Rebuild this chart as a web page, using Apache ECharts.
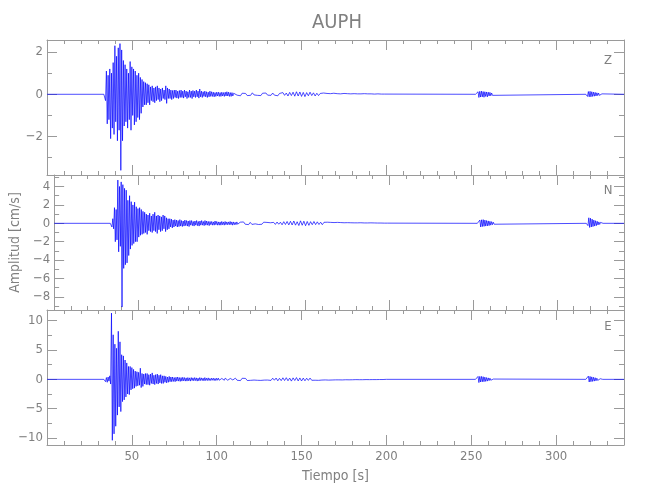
<!DOCTYPE html>
<html><head><meta charset="utf-8">
<script src="https://cdn.jsdelivr.net/npm/echarts@6/dist/echarts.min.js"></script>
<style>html,body{margin:0;padding:0;background:#fff}#c{width:650px;height:500px}</style>
</head><body><div id="c"></div><script>
// ---- data ----
const components = ['Z', 'N', 'E'];
const xMajorTicks = [50, 100, 150, 200, 250, 300];
const xMinorTicks = [10, 20, 30, 40, 60, 70, 80, 90, 110, 120, 130, 140, 160, 170, 180, 190, 210, 220, 230, 240, 260, 270, 280, 290, 310, 320, 330];
const zYMajor = [-2, 0, 2];
const zYMinor = [-3, -1, 1];
const nYMajor = [-8, -6, -4, -2, 0, 2, 4];
const nYMinor = [-9, -7, -5, -3, -1, 1, 3, 5];
const eYMajor = [-10, -5, 0, 5, 10];
const eYMinor = [-7.5, -2.5, 2.5, 7.5];
const zRange = [-3.82, 2.57];
const nRange = [-9.42, 5.25];
const eRange = [-11.2, 11.83];

// main shaking, samples every 0.5 s starting at 34 s
const mainStart = 34, mainStep = 0.5;
const zMain = [
  0.05,-0.3,1.1,-1.4,0.9,-1.2,1.2,-2.1,1.0,-1.6,
  1.5,-1.9,2.3,-1.3,1.8,-2.2,2.2,-1.7,2.4,-3.6,
  2.1,-2.2,1.6,-1.5,1.4,-1.3,1.2,-1.6,1.0,-1.2,
  1.55,-1.7,1.3,-1.0,1.2,-1.45,1.1,-1.3,0.9,-1.1,
  1.0,-1.2,0.8,-0.9,0.7,-0.6,0.6,-0.5,0.55,-0.5,
  0.5,-0.4,0.45,-0.5,0.35,-0.3,0.4,-0.35,0.3,-0.4,
  0.35,-0.3,0.4,-0.25,0.3,-0.35,0.25,-0.3,0.3,-0.2,
  0.2,-0.25,0.4,-0.43,0.3,-0.2,0.25,-0.2,0.2,-0.25,
  0.18,-0.2,0.2,-0.15,0.2,-0.18,0.15,-0.2,0.18,-0.15,
  0.2,-0.15,0.15,-0.18,0.2,-0.12,0.15,-0.2,0.12,-0.15,
  0.2,-0.15,0.15,-0.2,0.18,-0.12,0.15,-0.15,0.2,-0.12,
  0.15,-0.18,0.25,-0.12,0.15,-0.15,0.12,-0.1,0.15,-0.12,
  0.12,-0.15,0.1,-0.12,0.15,-0.1,0.12,-0.1,0.1,-0.12,
  0.08,-0.1,0.1,-0.08,0.1,-0.1,0.08,-0.1,0.1,-0.08,
  0.08,-0.1,0.1,-0.08,0.12,-0.08,0.1,-0.1,0.08,-0.1,
  0.08,-0.08,0.05
];
const nMain = [
  0.1,-0.4,0.5,-0.6,1.7,-2.0,1.5,-1.8,4.7,-3.1,
  4.0,-2.5,4.5,-9.1,4.2,-4.9,3.8,-4.5,3.6,-4.3,
  2.5,-3.5,3.0,-2.8,2.35,-2.4,2.0,-2.2,2.3,-2.0,
  1.8,-2.0,1.6,-1.5,1.7,-1.3,1.5,-1.2,1.3,-1.1,
  1.2,-1.0,1.0,-1.2,0.9,-0.8,1.1,-0.9,0.8,-1.0,
  1.0,-0.8,1.2,-0.9,0.8,-1.1,0.9,-0.7,0.8,-0.9,
  0.7,-0.8,0.9,-0.6,0.8,-0.9,0.6,-0.7,0.5,-0.6,
  0.5,-0.4,0.45,-0.5,0.35,-0.4,0.4,-0.3,0.35,-0.4,
  0.3,-0.35,0.4,-0.3,0.3,-0.35,0.25,-0.3,0.35,-0.25,
  0.3,-0.3,0.25,-0.35,0.3,-0.2,0.3,-0.25,0.2,-0.3,
  0.25,-0.2,0.3,-0.25,0.2,-0.3,0.25,-0.2,0.3,-0.2,
  0.2,-0.25,0.3,-0.2,0.25,-0.2,0.2,-0.25,0.2,-0.15,
  0.2,-0.2,0.15,-0.2,0.25,-0.15,0.2,-0.2,0.15,-0.2,
  0.15,-0.2,0.2,-0.15,0.15,-0.2,0.2,-0.15,0.15,-0.15,
  0.15,-0.15,0.2,-0.15,0.15,-0.2,0.15,-0.15,0.1,-0.15,
  0.15,-0.1,0.05
];
const eMain = [
  -0.2,-0.4,0.3,-0.5,0.4,-0.3,0.6,-0.8,11.3,-10.4,
  7.6,-9.3,6.0,-8.0,5.3,-6.1,8.2,-4.7,6.4,-5.5,
  4.2,-3.8,4.0,-3.5,3.3,-3.0,2.8,-2.5,2.2,-2.6,
  2.2,-1.8,2.0,-1.6,1.7,-1.5,1.4,-1.2,1.3,-1.1,
  1.2,-1.0,1.9,-1.4,1.0,-1.2,0.9,-0.8,1.0,-0.9,
  1.0,-0.9,0.8,-1.0,0.9,-0.7,1.1,-0.8,0.7,-0.9,
  0.8,-0.7,0.9,-0.8,0.7,-0.6,0.8,-0.7,0.6,-0.7,
  0.6,-0.5,0.5,-0.6,0.4,-0.5,0.5,-0.4,0.4,-0.4,
  0.4,-0.35,0.3,-0.4,0.35,-0.3,0.4,-0.3,0.3,-0.35,
  0.3,-0.3,0.35,-0.25,0.3,-0.3,0.25,-0.3,0.3,-0.25,
  0.25,-0.3,0.3,-0.2,0.25,-0.25,0.3,-0.2,0.25,-0.3,
  0.2,-0.25,0.3,-0.2,0.25,-0.2,0.2,-0.25,0.3,-0.2,
  0.2,-0.2,0.25,-0.2,0.15,-0.2,0.2,-0.15,0.2,-0.2,
  0.15,-0.2,0.2,-0.15,0.2,-0.15,0.15,-0.2,0.15,-0.15,
  0.15,-0.15,0.2,-0.1,0.15,-0.15,0.1,-0.15,0.15,-0.1,
  0.1,-0.1,0.05
];
// coda, samples every 1 s starting at 111 s
const tailStart = 111, tailStep = 1;
const zTail = [
  0.06,-0.04,0.03,-0.07,0.05,-0.02,0.04,-0.06,0.03,-0.05,
  0.07,-0.03,0.04,-0.05,0.02,-0.06,0.05,-0.03,0.06,-0.04,
  0.03,-0.05,0.06,-0.04,0.05,-0.07,0.04,-0.03,0.08,-0.05,
  0.06,-0.08,0.09,-0.06,0.1,-0.09,0.12,-0.08,0.11,-0.1,
  0.09,-0.11,0.08,-0.07,0.1,-0.06,0.07,-0.08,0.05,-0.06,
  0.04,-0.05,0.06,-0.03,0.04,-0.05,0.03,-0.04,0.05,-0.03,
  0.03,-0.04,0.02,-0.03,0.04,-0.02,0.03,-0.03,0.02,-0.04,
  0.03,-0.02,0.02,-0.03,0.02,-0.02,0.03,-0.02,0.02,-0.02,
  0.02,-0.02,0.01,-0.02,0.02,-0.01,0.01,-0.02,0.01
];
const nTail = [
  0.12,-0.08,0.15,-0.1,0.07,-0.14,0.1,-0.12,0.09,-0.06,
  0.11,-0.13,0.08,-0.1,0.12,-0.07,0.1,-0.11,0.06,-0.09,
  0.1,-0.12,0.14,-0.1,0.12,-0.16,0.18,-0.13,0.2,-0.17,
  0.22,-0.18,0.25,-0.2,0.17,-0.24,0.27,-0.21,0.23,-0.26,
  0.2,-0.22,0.18,-0.15,0.2,-0.14,0.16,-0.13,0.12,-0.15,
  0.11,-0.1,0.12,-0.08,0.1,-0.11,0.08,-0.09,0.1,-0.07,
  0.08,-0.07,0.06,-0.08,0.07,-0.05,0.06,-0.07,0.05,-0.06,
  0.05,-0.04,0.06,-0.05,0.04,-0.05,0.04,-0.03,0.05,-0.04,
  0.04,-0.03,0.03,-0.04,0.03,-0.03,0.02,-0.03,0.02
];
const eTail = [
  0.2,-0.15,0.12,-0.22,0.18,-0.1,0.16,-0.2,0.13,-0.17,
  0.15,-0.12,0.19,-0.16,0.11,-0.18,0.14,-0.13,0.17,-0.12,
  0.15,-0.18,0.2,-0.15,0.22,-0.25,0.18,-0.22,0.26,-0.2,
  0.28,-0.24,0.22,-0.3,0.25,-0.2,0.3,-0.27,0.24,-0.28,
  0.22,-0.25,0.2,-0.18,0.22,-0.16,0.18,-0.15,0.14,-0.17,
  0.13,-0.12,0.14,-0.1,0.12,-0.13,0.1,-0.11,0.12,-0.09,
  0.1,-0.09,0.08,-0.1,0.09,-0.07,0.08,-0.08,0.06,-0.07,
  0.06,-0.05,0.07,-0.06,0.05,-0.06,0.05,-0.04,0.05,-0.05,
  0.04,-0.04,0.03,-0.04,0.03,-0.03,0.02,-0.03,0.02
];
// later small arrivals, samples every 0.5 s
const burst1Start = 253, burst2Start = 318, burstStep = 0.5;
const zBurst1 = [0.05,-0.08,0.12,-0.15,0.14,-0.13,0.15,-0.12,0.13,-0.14,0.12,-0.1,0.11,-0.12,0.1,-0.08,0.09,-0.07,0.06,-0.05,0.03];
const nBurst1 = [0.1,-0.2,0.35,-0.4,0.38,-0.35,0.4,-0.33,0.35,-0.3,0.3,-0.28,0.26,-0.25,0.22,-0.2,0.18,-0.15,0.12,-0.1,0.05];
const eBurst1 = [0.15,-0.3,0.5,-0.55,0.5,-0.45,0.5,-0.42,0.45,-0.4,0.38,-0.35,0.3,-0.3,0.25,-0.22,0.2,-0.15,0.12,-0.1,0.05];
const zBurst2 = [0.05,-0.1,0.13,-0.12,0.14,-0.12,0.12,-0.1,0.1,-0.09,0.09,-0.08,0.07,-0.06,0.06,-0.05,0.04,-0.03,0.02];
const nBurst2 = [0.1,-0.25,0.6,-0.45,0.55,-0.4,0.45,-0.35,0.35,-0.3,0.28,-0.25,0.22,-0.18,0.15,-0.12,0.1,-0.08,0.04];
const eBurst2 = [0.15,-0.3,0.55,-0.45,0.5,-0.4,0.42,-0.35,0.35,-0.3,0.28,-0.25,0.2,-0.18,0.15,-0.12,0.1,-0.08,0.04];

// ---- build ----
function seg(t0, dt, vals) { return vals.map((v, i) => [t0 + i * dt, v]); }
function trace(main, tail, b1, b2) {
  return [[0, 0], [33.5, 0]]
    .concat(seg(mainStart, mainStep, main))
    .concat(seg(tailStart, tailStep, tail))
    .concat([[200, 0], [252.5, 0]])
    .concat(seg(burst1Start, burstStep, b1))
    .concat([[263.5, 0], [317.5, 0]])
    .concat(seg(burst2Start, burstStep, b2))
    .concat([[327.5, 0], [340, 0]]);
}
const traces = [
  trace(zMain, zTail, zBurst1, zBurst2),
  trace(nMain, nTail, nBurst1, nBurst2),
  trace(eMain, eTail, eBurst1, eBurst2)
];
const ranges = [zRange, nRange, eRange];
const yMajors = [zYMajor, nYMajor, eYMajor];
const yMinors = [zYMinor, nYMinor, eYMinor];

const AX = '#9a9a9a', TX = '#808080';
const FONT = "'Liberation Sans Narrow','DejaVu Sans Condensed','Liberation Sans',sans-serif";
const tops = [40, 175, 310];
const grids = [], xAxes = [], yAxes = [], series = [];
const fmt = v => String(v).replace('-', '\u2212');
const lineOn = { show: true, onZero: false, lineStyle: { color: AX, width: 1 } };
const lineOff = { show: false, onZero: false };
for (let g = 0; g < 3; g++) {
  grids.push({ left: 47, right: 26, top: tops[g], height: 135 });
  const xBase = { type: 'value', gridIndex: g, min: 0, max: 340, splitLine: { show: false } };
  const last = g === 2;
  xAxes.push(Object.assign({}, xBase, {
    position: 'bottom', axisLine: lineOn,
    axisTick: { show: true, inside: true, length: 10, customValues: xMajorTicks, lineStyle: { color: AX } },
    axisLabel: { show: last, customValues: xMajorTicks, color: TX, fontSize: 13, fontFamily: FONT, margin: 5 },
    name: last ? 'Tiempo [s]' : '', nameLocation: 'middle', nameGap: 24,
    nameTextStyle: { color: TX, fontSize: 14, fontFamily: FONT }
  }));
  xAxes.push(Object.assign({}, xBase, {
    position: 'bottom', axisLine: lineOff,
    axisTick: { show: true, inside: true, length: 4, customValues: xMinorTicks, lineStyle: { color: AX } },
    axisLabel: { show: false }
  }));
  xAxes.push(Object.assign({}, xBase, {
    position: 'top', axisLine: lineOn,
    axisTick: { show: true, inside: true, length: 10, customValues: xMajorTicks, lineStyle: { color: AX } },
    axisLabel: { show: false }
  }));
  xAxes.push(Object.assign({}, xBase, {
    position: 'top', axisLine: lineOff,
    axisTick: { show: true, inside: true, length: 4, customValues: xMinorTicks, lineStyle: { color: AX } },
    axisLabel: { show: false }
  }));
  const yBase = { type: 'value', gridIndex: g, min: ranges[g][0], max: ranges[g][1], splitLine: { show: false } };
  yAxes.push(Object.assign({}, yBase, {
    position: 'left', axisLine: lineOn,
    axisTick: { show: true, inside: true, length: 10, customValues: yMajors[g], lineStyle: { color: AX } },
    axisLabel: { show: true, customValues: yMajors[g], formatter: fmt, color: TX, fontSize: 13, fontFamily: FONT, margin: 4 },
    name: g === 1 ? 'Amplitud [cm/s]' : '', nameLocation: 'middle', nameGap: 25, nameRotate: 90,
    nameTextStyle: { color: TX, fontSize: 14, fontFamily: FONT }
  }));
  yAxes.push(Object.assign({}, yBase, {
    position: 'left', axisLine: lineOff,
    axisTick: { show: true, inside: true, length: 5, customValues: yMinors[g], lineStyle: { color: AX } },
    axisLabel: { show: false }
  }));
  yAxes.push(Object.assign({}, yBase, {
    position: 'right', axisLine: lineOn,
    axisTick: { show: true, inside: true, length: 10, customValues: yMajors[g], lineStyle: { color: AX } },
    axisLabel: { show: false }
  }));
  yAxes.push(Object.assign({}, yBase, {
    position: 'right', axisLine: lineOff,
    axisTick: { show: true, inside: true, length: 5, customValues: yMinors[g], lineStyle: { color: AX } },
    axisLabel: { show: false }
  }));
  series.push({
    type: 'line', name: components[g], xAxisIndex: 4 * g, yAxisIndex: 4 * g,
    data: traces[g], showSymbol: false, symbol: 'none', sampling: null, clip: true,
    lineStyle: { color: '#0000ff', width: 0.7 }, animation: false, silent: true
  });
}
const chart = echarts.init(document.getElementById('c'), null, { renderer: 'canvas' });
chart.setOption({
  backgroundColor: '#ffffff',
  animation: false,
  grid: grids, xAxis: xAxes, yAxis: yAxes, series: series,
  graphic: [
    { type: 'text', x: 337, y: 23, style: { text: 'AUPH', fill: TX, fontSize: 20, fontFamily: FONT, align: 'center', verticalAlign: 'middle' } },
    { type: 'text', x: 608, y: 61, style: { text: components[0], fill: TX, fontSize: 13, fontFamily: FONT, align: 'center', verticalAlign: 'middle' } },
    { type: 'text', x: 608, y: 191, style: { text: components[1], fill: TX, fontSize: 13, fontFamily: FONT, align: 'center', verticalAlign: 'middle' } },
    { type: 'text', x: 608, y: 327, style: { text: components[2], fill: TX, fontSize: 13, fontFamily: FONT, align: 'center', verticalAlign: 'middle' } }
  ]
});
</script></body></html>
